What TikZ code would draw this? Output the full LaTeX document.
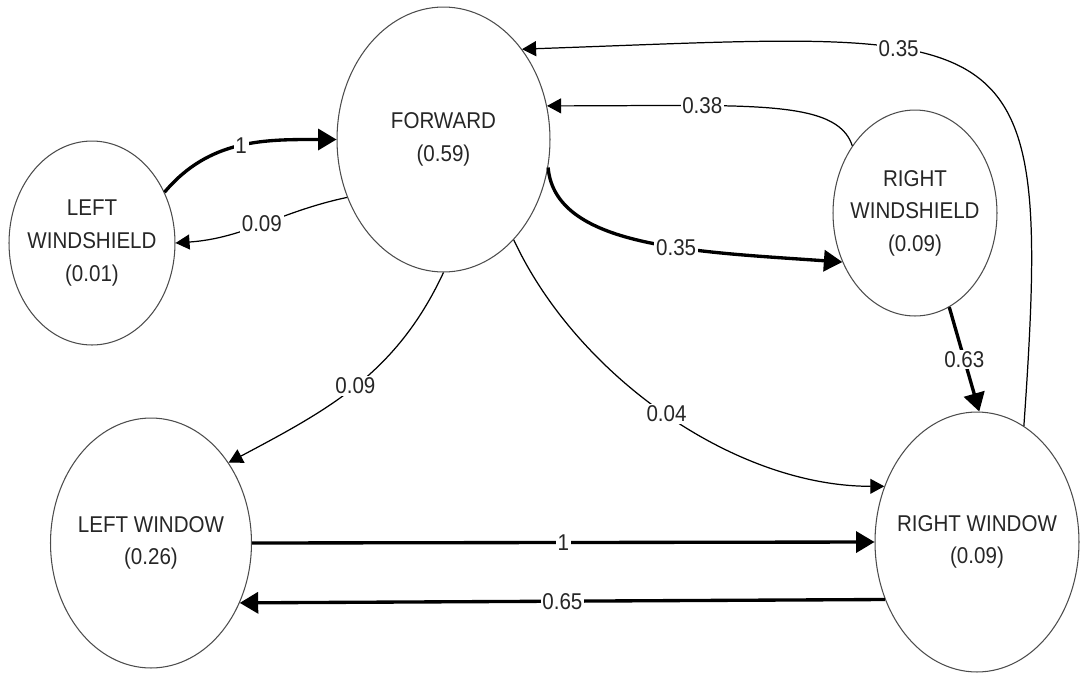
\documentclass[tikz,border=0pt]{standalone}
\usepackage{fontspec}
\setmainfont{Liberation Sans}[FakeStretch=0.9]
\usetikzlibrary{shapes.geometric,arrows.meta}

\begin{document}
\begin{tikzpicture}[x=0.02cm,y=-0.02cm,
  state/.style={ellipse,draw=black!70,line width=0.6pt,inner sep=0pt},
  txt/.style={align=center,text=black!85,font=\fontsize{13}{18.5}\selectfont},
  prob/.style={fill=white,inner sep=1pt,text=black!85,font=\fontsize{13}{15}\selectfont},
  weak/.style={line width=0.7pt,-{Triangle[length=8pt,width=8.5pt]}},
  strong/.style={line width=1.9pt,-{Triangle[length=10.5pt,width=12pt]}}]

\useasboundingbox (0,0) rectangle (1080,674);

% states (text as label, so the ellipse keeps its size)
\node[state,minimum width=4.26cm,minimum height=5.3cm,label={[txt]center:FORWARD\\(0.59)}] (fwd) at (443.5,139.5) {};
\node[state,minimum width=3.32cm,minimum height=4.08cm,label={[txt]center:LEFT\\WINDSHIELD\\(0.01)}] (lws) at (92,243) {};
\node[state,minimum width=3.28cm,minimum height=4.12cm,label={[txt]center:RIGHT\\WINDSHIELD\\(0.09)}] (rws) at (915,213) {};
\node[state,minimum width=4.02cm,minimum height=5cm,label={[txt]center:LEFT WINDOW\\(0.26)}] (lw) at (151,543) {};
\node[state,minimum width=4.08cm,minimum height=5.2cm,label={[txt]center:RIGHT WINDOW\\(0.09)}] (rw) at (977,542) {};

% transitions
\draw[strong] (lws.35) to[out=50,in=180] node[prob] {1} (fwd.180);
\draw[weak] (fwd.211) to[out=192,in=4] node[prob] {0.09} (lws.0);
\draw[weak] (fwd.270) to[out=245,in=28] node[prob] {0.09} (lw.46);
\draw[weak] (fwd.305) to[out=-65,in=180,out distance=3cm,in distance=3cm] node[prob] {0.04} (rw.149);
\draw[strong] (fwd.345) to[out=-85,in=176,out distance=1.6cm,in distance=3cm] node[prob,pos=0.6] {0.35} (rws.214);
\draw[weak] (rws.133) to[out=108,in=0,out distance=1cm,in distance=4cm] node[prob,pos=0.69] {0.38} (fwd.18);
\draw[weak] (rw.68) to[out=86,in=2,out distance=8.4cm,in distance=10cm] node[prob,pos=0.64] {0.35} (fwd.49);
\draw[strong] (rws.290) -- node[prob] {0.63} (rw.89);
\draw[strong] (lw.0) -- node[prob] {1} (rw.180);
\draw[strong] (rw.212) -- node[prob] {0.65} (lw.326);
\end{tikzpicture}
\end{document}
